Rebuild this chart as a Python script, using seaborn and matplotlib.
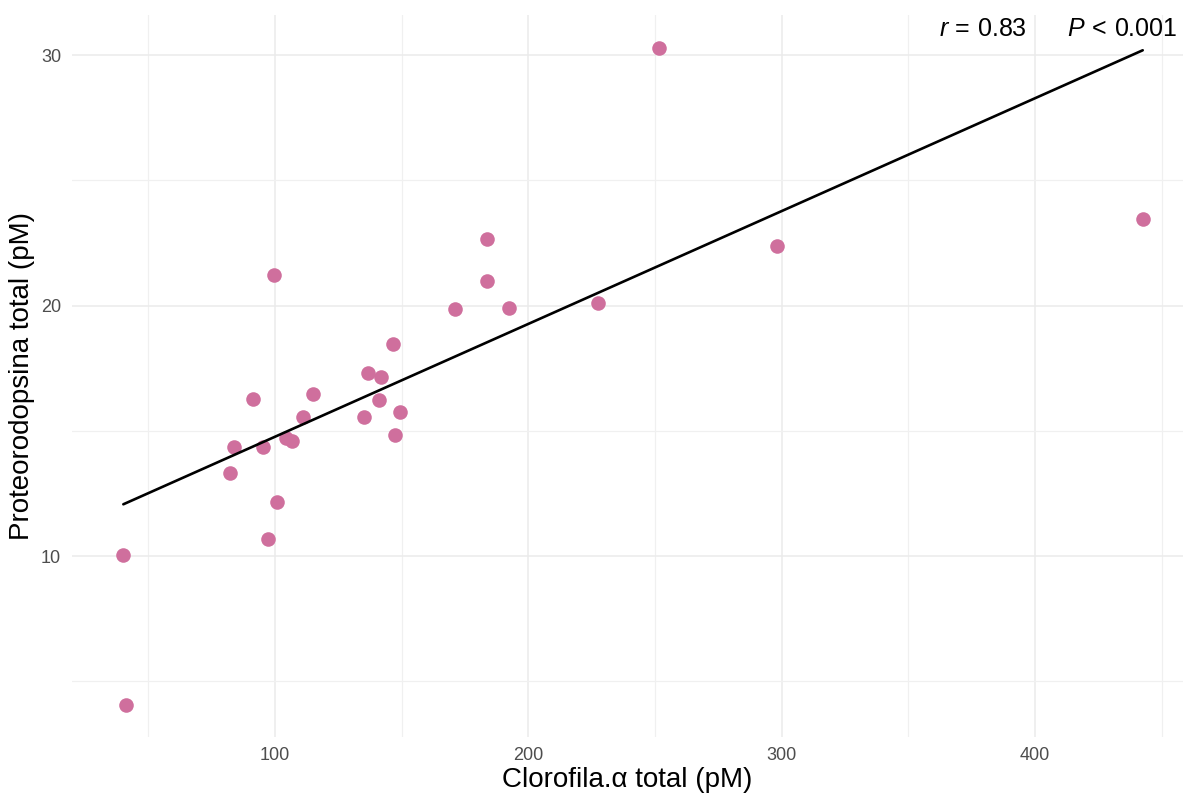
import numpy as np
import pandas as pd
import matplotlib
matplotlib.use("Agg")
import matplotlib.pyplot as plt
import seaborn as sns

# Values
clorofila = [40.1, 41.2, 99.5, 251.4, 298.3, 442.5, 183.5, 183.5, 171.1, 192.4,
             227.4, 146.5, 136.5, 141.7, 115.1, 91.2, 141.1, 149.4, 110.9, 135.2,
             147.3, 104.3, 106.6, 83.9, 95.4, 82.2, 100.7, 97.1]
proteorodopsina = [10.05, 4.08, 21.23, 30.28, 22.38, 23.45, 22.64, 20.98, 19.86, 19.91,
                   20.10, 18.46, 17.32, 17.15, 16.48, 16.28, 16.24, 15.74, 15.54, 15.54,
                   14.84, 14.72, 14.61, 14.37, 14.34, 13.31, 12.18, 10.67]

x_ticks = [100, 200, 300, 400]
y_ticks = [10, 20, 30]
stats_label = r"$r\,=\,0.83$      $P\,<\,0.001$"

df = pd.DataFrame({"clorofila": clorofila, "proteorodopsina": proteorodopsina})

sns.set_theme(style="whitegrid")
plt.rcParams["font.family"] = ["Liberation Sans", "DejaVu Sans"]
plt.rcParams["mathtext.fontset"] = "custom"
plt.rcParams["mathtext.rm"] = "Liberation Sans"
plt.rcParams["mathtext.it"] = "Liberation Sans:italic"

fig = plt.figure(figsize=(11.83, 7.98), dpi=100)
ax = fig.add_axes([0.061, 0.076, 0.939, 0.905])

sns.regplot(data=df, x="clorofila", y="proteorodopsina", ci=None, ax=ax,
            scatter_kws={"s": 110, "color": "#CF6F9D", "alpha": 1, "linewidths": 0, "zorder": 3},
            line_kws={"color": "black", "lw": 1.9, "zorder": 4})

# panel limits as in the reference
yr = max(proteorodopsina) - min(proteorodopsina)
ax.set_xlim(19.9, 458.4)
ax.set_ylim(min(proteorodopsina) - 0.05 * yr, max(proteorodopsina) + 0.05 * yr)

ax.set_xticks(x_ticks)
ax.set_yticks(y_ticks)
ax.set_xticks([50, 150, 250, 350, 450], minor=True)
ax.set_yticks([5, 15, 25], minor=True)
ax.grid(which="major", color="#EBEBEB", lw=1.1)
ax.grid(which="minor", color="#F0F0F0", lw=0.9)
ax.set_axisbelow(True)
for s in ax.spines.values():
    s.set_visible(False)
ax.tick_params(which="both", length=0, labelsize=13, labelcolor="#4D4D4D")
ax.tick_params(axis="x", pad=7)
ax.tick_params(axis="y", pad=8)

ax.set_xlabel("Clorofila.α total (pM)", fontsize=20, color="black", labelpad=2)
ax.set_ylabel("Proteorodopsina total (pM)", fontsize=20, color="black", labelpad=4)

ax.text(0.995, 0.981, stats_label, transform=ax.transAxes, ha="right", va="center",
        fontsize=18, color="black")

fig.savefig("out.png", dpi=100, facecolor="white")
